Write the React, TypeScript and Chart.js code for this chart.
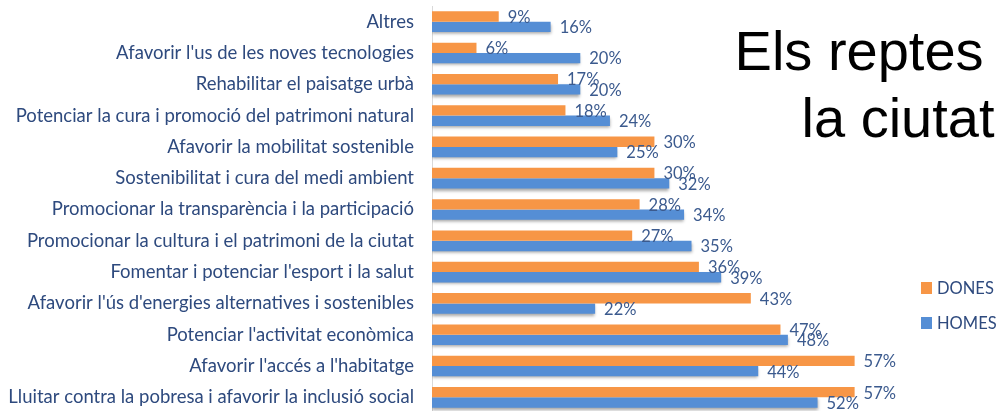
import { useEffect, useRef } from "react";
import { Chart, registerables } from "chart.js";

Chart.register(...registerables);

// Reptes de la ciutat, percentatge de respostes per sexe
const categories = [
  "Altres",
  "Afavorir l'us de les noves tecnologies",
  "Rehabilitar el paisatge urbà",
  "Potenciar la cura i promoció del patrimoni natural",
  "Afavorir la mobilitat sostenible",
  "Sostenibilitat i cura del medi ambient",
  "Promocionar la transparència i la participació",
  "Promocionar la cultura i el patrimoni de la ciutat",
  "Fomentar i potenciar l'esport i la salut",
  "Afavorir l'ús d'energies alternatives i sostenibles",
  "Potenciar l'activitat econòmica",
  "Afavorir l'accés a l'habitatge",
  "Lluitar contra la pobresa i afavorir la inclusió social",
];

const dones = [9, 6, 17, 18, 30, 30, 28, 27, 36, 43, 47, 57, 57];
const homes = [16, 20, 20, 24, 25, 32, 34, 35, 39, 22, 48, 44, 52];

const seriesNames = ["DONES", "HOMES"];

const ORANGE = "#F79646";
const BLUE = "#558ED5";
const LABEL_COLOR = "#2E4A7E";
const VALUE_COLOR = "#3B5A8E";
const FONT = "Lato";

// percentage text after the end of each bar
const valueLabels = {
  id: "valueLabels",
  afterDatasetsDraw(chart: any) {
    const ctx = chart.ctx;
    ctx.save();
    ctx.font = `16.5px ${FONT}`;
    ctx.fillStyle = VALUE_COLOR;
    ctx.textBaseline = "middle";
    ctx.textAlign = "left";
    chart.data.datasets.forEach((ds: any, di: number) => {
      const meta = chart.getDatasetMeta(di);
      meta.data.forEach((bar: any, i: number) => {
        ctx.fillText(`${ds.data[i]}%`, bar.x + 9, bar.y + 1);
      });
    });
    ctx.restore();
  },
};

// soft drop shadow under the lower bar of each pair
const barShadow = {
  id: "barShadow",
  beforeDatasetDraw(chart: any, args: any) {
    if (args.index !== 1) return;
    const ctx = chart.ctx;
    ctx.save();
    ctx.shadowColor = "rgba(0,0,0,0.35)";
    ctx.shadowBlur = 3;
    ctx.shadowOffsetY = 2;
  },
  afterDatasetDraw(chart: any, args: any) {
    if (args.index !== 1) return;
    chart.ctx.restore();
  },
};

function RepteChart() {
  const canvasRef = useRef<HTMLCanvasElement | null>(null);

  useEffect(() => {
    const canvas = canvasRef.current;
    if (!canvas) return;
    const chart = new Chart(canvas, {
      type: "bar",
      data: {
        labels: categories,
        datasets: [
          {
            label: seriesNames[0],
            data: dones,
            backgroundColor: ORANGE,
            borderWidth: 0,
            categoryPercentage: 0.66,
            barPercentage: 1,
          },
          {
            label: seriesNames[1],
            data: homes,
            backgroundColor: BLUE,
            borderWidth: 0,
            categoryPercentage: 0.66,
            barPercentage: 1,
          },
        ],
      },
      options: {
        indexAxis: "y",
        responsive: false,
        animation: false,
        devicePixelRatio: 1,
        layout: { padding: { top: 6, right: 47, bottom: 0, left: 0 } },
        plugins: {
          legend: { display: false },
          tooltip: { enabled: false },
          title: { display: false },
        },
        scales: {
          x: {
            display: false,
            min: 0,
            max: 70,
          },
          y: {
            afterFit: (scale: any) => {
              scale.width = 432;
              // category bands run edge to edge, no extra room for end labels
              scale.paddingTop = 0;
              scale.paddingBottom = 0;
            },
            grid: { display: false, drawTicks: false },
            border: { display: true, color: "#D9D9D9", width: 1 },
            ticks: {
              color: LABEL_COLOR,
              font: { family: FONT, size: 18.5 },
              padding: 18,
              autoSkip: false,
            },
          },
        },
      },
      plugins: [barShadow, valueLabels],
    });
    return () => chart.destroy();
  }, []);

  return (
    <canvas
      ref={canvasRef}
      width={998}
      height={413}
      style={{ position: "absolute", left: 0, top: 0, width: 998, height: 413 }}
    />
  );
}

function LegendItem({ color, text, top }: { color: string; text: string; top: number }) {
  return (
    <div
      style={{
        position: "absolute",
        left: 921,
        top,
        height: 20,
        display: "flex",
        alignItems: "center",
        whiteSpace: "nowrap",
        fontFamily: FONT,
        fontSize: 16.5,
        color: LABEL_COLOR,
      }}
    >
      <span style={{ display: "inline-block", width: 11, height: 12, background: color, marginRight: 5 }} />
      <span>{text}</span>
    </div>
  );
}

export default function App() {
  return (
    <div
      style={{
        position: "fixed",
        left: 0,
        top: 0,
        width: 998,
        height: 411,
        overflow: "hidden",
        background: "#ffffff",
      }}
    >
      <RepteChart />
      <div
        style={{
          position: "absolute",
          left: 698,
          top: 17,
          width: 400,
          textAlign: "center",
          fontFamily: "'Liberation Sans', Arial, sans-serif",
          fontSize: 56,
          lineHeight: "67px",
          color: "#000000",
          whiteSpace: "nowrap",
        }}
      >
        Els reptes de
        <br />
        la ciutat
      </div>
      <LegendItem color={ORANGE} text={seriesNames[0]} top={278} />
      <LegendItem color={BLUE} text={seriesNames[1]} top={313} />
    </div>
  );
}
